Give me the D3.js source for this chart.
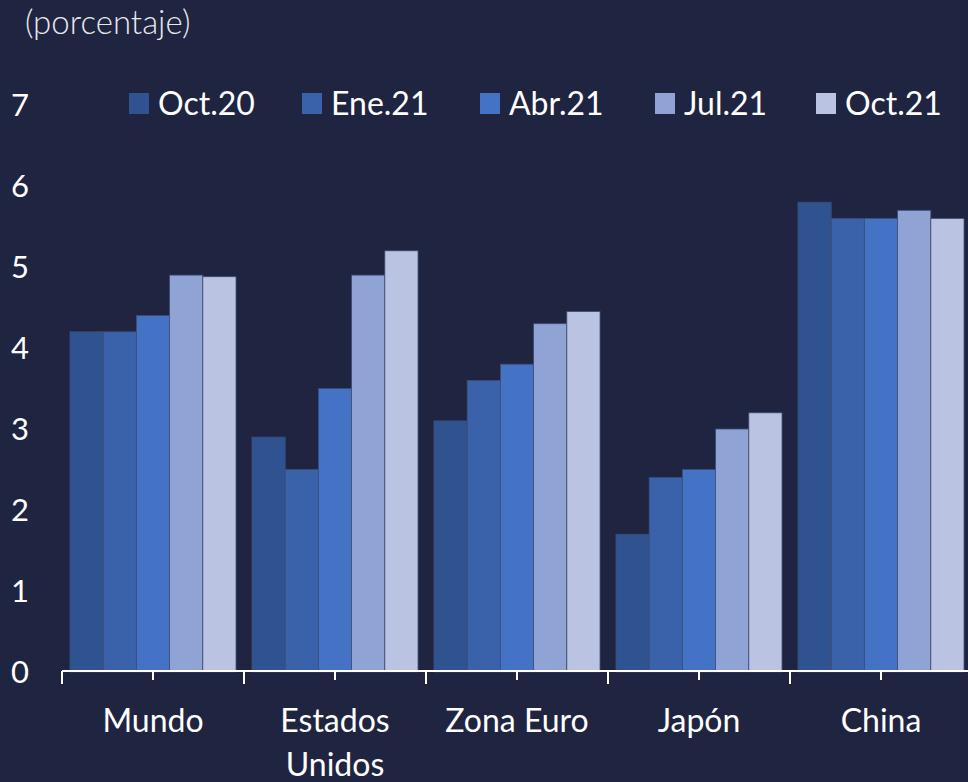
<!DOCTYPE html>
<html>
<head>
<meta charset="utf-8">
<script src="https://cdn.jsdelivr.net/npm/d3@7"></script>
<style>
  body { margin: 0; background: #1f2440; }
  svg { display: block; font-family: Lato, "Open Sans", sans-serif; }
</style>
</head>
<body>
<div id="graph"></div>
<script>
// data
var categories = ["Mundo", "Estados Unidos", "Zona Euro", "Japón", "China"];
var series = ["Oct.20", "Ene.21", "Abr.21", "Jul.21", "Oct.21"];
var oct20 = [4.2, 2.9, 3.1, 1.7, 5.8];
var ene21 = [4.2, 2.5, 3.6, 2.4, 5.6];
var abr21 = [4.4, 3.5, 3.8, 2.5, 5.6];
var jul21 = [4.9, 4.9, 4.3, 3.0, 5.7];
var oct21 = [4.88, 5.2, 4.45, 3.2, 5.6];
var yTicks = [0, 1, 2, 3, 4, 5, 6, 7];
var colors = ["#2f5291", "#3a62aa", "#4472c4", "#8fa3d5", "#bac3e2"];

var values = [oct20, ene21, abr21, jul21, oct21];

var width = 968, height = 782;

var svg = d3.select("#graph").append("svg")
    .attr("width", width)
    .attr("height", height);

svg.append("rect")
    .attr("width", width)
    .attr("height", height)
    .attr("fill", "#1f2440");

// scales
var x0 = d3.scaleBand()
    .domain(categories)
    .range([62, 62 + 5 * 182]);

var x1 = d3.scaleBand()
    .domain(series)
    .range([0, x0.bandwidth()])
    .paddingOuter(0.24);

var y = d3.scaleLinear()
    .domain([0, 7])
    .range([672, 105]);

// title
svg.append("text")
    .attr("x", 25)
    .attr("y", 34)
    .attr("fill", "#e8e8ee")
    .style("font-size", "33px")
    .style("font-weight", 300)
    .text("(porcentaje)");

// y tick labels (no axis line)
svg.selectAll(".ylab")
    .data(yTicks)
  .enter().append("text")
    .attr("class", "ylab")
    .attr("x", 29)
    .attr("y", function(d) { return y(d); })
    .attr("dy", "0.35em")
    .attr("text-anchor", "end")
    .attr("fill", "#ffffff")
    .style("font-size", "31px")
    .text(function(d) { return d; });

// bars
var groups = svg.selectAll(".cat")
    .data(categories)
  .enter().append("g")
    .attr("class", "cat")
    .attr("transform", function(d) { return "translate(" + x0(d) + ",0)"; });

groups.selectAll("rect")
    .data(function(c, i) {
      return series.map(function(s, j) { return {s: s, j: j, v: values[j][i]}; });
    })
  .enter().append("rect")
    .attr("x", function(d) { return x1(d.s); })
    .attr("y", function(d) { return y(d.v); })
    .attr("width", x1.bandwidth())
    .attr("height", function(d) { return y(0) - y(d.v); })
    .attr("fill", function(d) { return colors[d.j]; })
    .attr("stroke", "#3d4d78")
    .attr("stroke-width", 0.8);

// x axis line + ticks
var axisY = 671;
svg.append("line")
    .attr("x1", x0.range()[0])
    .attr("x2", width)
    .attr("y1", axisY)
    .attr("y2", axisY)
    .attr("stroke", "#ffffff")
    .attr("stroke-width", 2);

var bounds = categories.map(function(c) { return x0(c); });
svg.selectAll(".tickB")
    .data(bounds)
  .enter().append("line")
    .attr("x1", function(d) { return d; })
    .attr("x2", function(d) { return d; })
    .attr("y1", axisY)
    .attr("y2", axisY + 13)
    .attr("stroke", "#ffffff")
    .attr("stroke-width", 2);

svg.selectAll(".tickC")
    .data(categories)
  .enter().append("line")
    .attr("x1", function(d) { return x0(d) + x0.bandwidth() / 2; })
    .attr("x2", function(d) { return x0(d) + x0.bandwidth() / 2; })
    .attr("y1", axisY)
    .attr("y2", axisY + 9)
    .attr("stroke", "#ffffff")
    .attr("stroke-width", 2);

// category labels (wrap "Estados Unidos")
var catLab = svg.selectAll(".xlab")
    .data(categories)
  .enter().append("text")
    .attr("class", "xlab")
    .attr("text-anchor", "middle")
    .attr("fill", "#ffffff")
    .style("font-size", "32px")
    .attr("y", 732);

catLab.each(function(d) {
  var lines = d === "Estados Unidos" ? ["Estados", "Unidos"] : [d];
  var t = d3.select(this);
  lines.forEach(function(l, k) {
    t.append("tspan")
      .attr("x", x0(d) + x0.bandwidth() / 2)
      .attr("dy", k === 0 ? 0 : 44)
      .text(l);
  });
});

// legend
var legendX = [129, 302, 480, 655, 816];
var legend = svg.selectAll(".leg")
    .data(series)
  .enter().append("g")
    .attr("class", "leg")
    .attr("transform", function(d, i) { return "translate(" + legendX[i] + ",93)"; });

legend.append("rect")
    .attr("width", 20)
    .attr("height", 21)
    .attr("fill", function(d, i) { return colors[i]; });

legend.append("text")
    .attr("x", 29)
    .attr("y", 10.5)
    .attr("dy", "0.35em")
    .attr("fill", "#ffffff")
    .style("font-size", "32px")
    .text(function(d) { return d; });
</script>
</body>
</html>
